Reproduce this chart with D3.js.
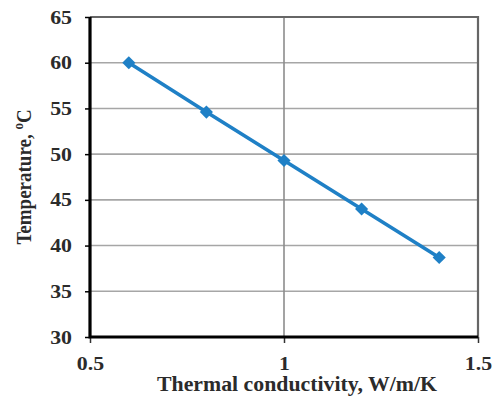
<!DOCTYPE html>
<html>
<head>
<meta charset="utf-8">
<script src="https://cdn.jsdelivr.net/npm/d3@7"></script>
<style>
  html, body { margin: 0; padding: 0; background: #fff; }
  svg { display: block; }
  text { font-family: "Liberation Serif", "Times New Roman", serif; font-weight: bold; fill: #2b2b2b; }
</style>
</head>
<body>
<svg id="chart" width="495" height="398"></svg>
<script>
// Thermal conductivity (W/m/K) vs. temperature (°C)
const conductivity = [0.6, 0.8, 1.0, 1.2, 1.4];
const temperature = [60.0, 54.6, 49.3, 44.0, 38.7];
const xTicks = [0.5, 1, 1.5];
const yTicks = [30, 35, 40, 45, 50, 55, 60, 65];

const svg = d3.select("#chart");
const plotLeft = 90, plotRight = 478, plotTop = 17, plotBottom = 337;
const widen = 1.15; // glyphs are drawn slightly wider than the serif face

const x = d3.scaleLinear().domain([0.5, 1.5]).range([plotLeft, plotRight]);
const y = d3.scaleLinear().domain([30, 65]).range([plotBottom, plotTop]);

// horizontal gridlines
svg.append("g").selectAll("line").data(yTicks.filter(d => d > 30 && d < 65)).join("line")
  .attr("x1", plotLeft).attr("x2", plotRight)
  .attr("y1", d => y(d)).attr("y2", d => y(d))
  .attr("stroke", "#a6a6a6").attr("stroke-width", 1.6);

// vertical gridline
svg.append("g").selectAll("line").data(xTicks.filter(d => d > 0.5 && d < 1.5)).join("line")
  .attr("x1", d => x(d)).attr("x2", d => x(d))
  .attr("y1", plotTop).attr("y2", plotBottom)
  .attr("stroke", "#8c8c8c").attr("stroke-width", 1.6);

// top and right frame
svg.append("path")
  .attr("d", `M${plotLeft},${plotTop}H${plotRight}V${plotBottom}`)
  .attr("fill", "none").attr("stroke", "#666").attr("stroke-width", 2.2);

// axes
const yAxis = d3.axisLeft(y).tickValues(yTicks).tickSize(5).tickPadding(13).tickFormat(d3.format("d"));
const gy = svg.append("g").attr("transform", `translate(${plotLeft},0)`).call(yAxis);
gy.select(".domain").remove();
gy.selectAll(".tick line").attr("stroke", "#000").attr("stroke-width", 1.5);
gy.selectAll(".tick text").attr("font-size", 19).attr("fill", "#2b2b2b")
  .attr("font-family", "Liberation Serif, serif").attr("font-weight", "bold")
  .attr("x", -18 / widen).attr("transform", `scale(${widen},1)`);

const xAxis = d3.axisBottom(x).tickValues(xTicks).tickSize(6).tickPadding(14).tickFormat(d => d);
const gx = svg.append("g").attr("transform", `translate(0,${plotBottom})`).call(xAxis);
gx.select(".domain").remove();
gx.selectAll(".tick line").attr("stroke", "#333").attr("stroke-width", 1.5);
gx.selectAll(".tick text").attr("font-size", 19).attr("fill", "#2b2b2b")
  .attr("font-family", "Liberation Serif, serif").attr("font-weight", "bold")
  .attr("transform", `scale(${widen},1)`);

// axis lines
svg.append("path")
  .attr("d", `M${plotLeft},${plotTop}V${plotBottom}H${plotRight}`)
  .attr("fill", "none").attr("stroke", "#000").attr("stroke-width", 3.2);

// data line
const pts = conductivity.map((c, i) => [c, temperature[i]]);
svg.append("path").datum(pts)
  .attr("d", d3.line().x(d => x(d[0])).y(d => y(d[1])))
  .attr("fill", "none").attr("stroke", "#1f80c6").attr("stroke-width", 3.6);

// diamond markers
svg.append("g").selectAll("path").data(pts).join("path")
  .attr("transform", d => `translate(${x(d[0])},${y(d[1])})`)
  .attr("d", d3.symbol(d3.symbolDiamond2, 110))
  .attr("fill", "#1f80c6");

// axis titles
svg.append("text")
  .attr("x", 297).attr("y", 391).attr("text-anchor", "middle").attr("font-size", 20)
  .attr("textLength", 280).attr("lengthAdjust", "spacingAndGlyphs")
  .text("Thermal conductivity, W/m/K");

const yt = svg.append("text")
  .attr("transform", `translate(31,177) scale(${widen},1) rotate(-90)`)
  .attr("text-anchor", "middle").attr("font-size", 19);
yt.append("tspan").text("Temperature, ");
yt.append("tspan").attr("font-size", 13).attr("dy", -7).text("o");
yt.append("tspan").attr("dy", 7).text("C");
</script>
</body>
</html>
